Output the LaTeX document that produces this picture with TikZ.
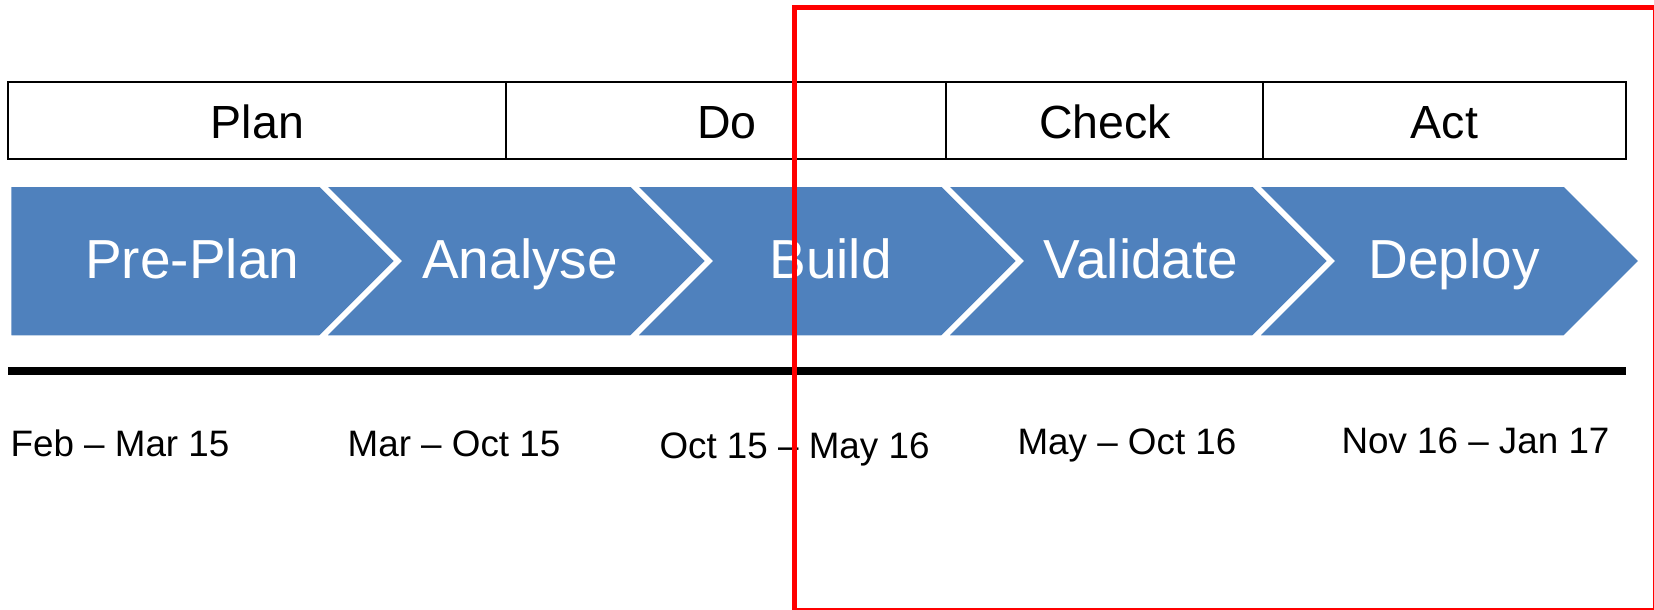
\documentclass[tikz,border=0pt]{standalone}
\usepackage{fontspec}
\setmainfont{Liberation Sans}
\definecolor{chev}{HTML}{4F81BD}
\begin{document}
\begin{tikzpicture}[x=1pt,y=-1pt,
  phase/.style={anchor=base,inner sep=0pt,font=\fontsize{46.5}{50}\selectfont},
  steptext/.style={anchor=base,inner sep=0pt,text=white,font=\fontsize{55}{60}\selectfont},
  datetext/.style={anchor=base,inner sep=0pt,font=\fontsize{36.8}{40}\selectfont},
  chevshape/.style={fill=chev,draw=white,line width=5.5pt,line join=miter},
  boxline/.style={draw=black,line width=2pt},
]
\useasboundingbox (0,0) rectangle (1654,610);
\clip (0,0) rectangle (1654,610);

% phase bar
\draw[boxline] (8,82) rectangle (1626,159);
\draw[boxline] (506,82) -- (506,159);
\draw[boxline] (946,82) -- (946,159);
\draw[boxline] (1263,82) -- (1263,159);
\node[phase] (plan) at (257.5,138.3) {Plan};
\node[phase] (do) at (727,138.3) {Do};
\node[phase] (check) at (1105,138.3) {Check};
\node[phase] (act) at (1444.5,138.3) {Act};

% chevrons
\def\T{184}\def\B{338}\def\M{261}\def\D{77}
\draw[chevshape] (8.5,\T) -- (321,\T) -- (321+\D,\M) -- (321,\B) -- (8.5,\B) -- cycle;
\foreach \a/\b in {321/632,632/943,943/1254,1254/1565}{
  \draw[chevshape] (\a,\T) -- (\b,\T) -- (\b+\D,\M) -- (\b,\B) -- (\a,\B) -- (\a+\D,\M) -- cycle;
}
\node[steptext] (preplan) at (192.3,278.3) {Pre-Plan};
\node[steptext] (analyse) at (520,278.3) {Analyse};
\node[steptext] (build) at (830.5,278.3) {Build};
\node[steptext] (validate) at (1141,278.3) {Validate};
\node[steptext] (deploy) at (1454,278.3) {Deploy};

% timeline bar
\coordinate (tl) at (8.4,370.5);
\coordinate (tr) at (1626,370.5);
\draw[line width=8pt] (tl) -- (tr);

% dates
\node[datetext] (d1) at (120,456) {Feb – Mar 15};
\node[datetext] (d2) at (454,456) {Mar – Oct 15};
\node[datetext] (d3) at (794.5,458) {Oct 15 – May 16};
\node[datetext] (d4) at (1127,454) {May – Oct 16};
\node[datetext] (d5) at (1475.5,453) {Nov 16 – Jan 17};

% highlight frame
\draw[red,line width=5pt] (794.5,7.5) rectangle (1655.5,610.5);
\end{tikzpicture}
\end{document}
